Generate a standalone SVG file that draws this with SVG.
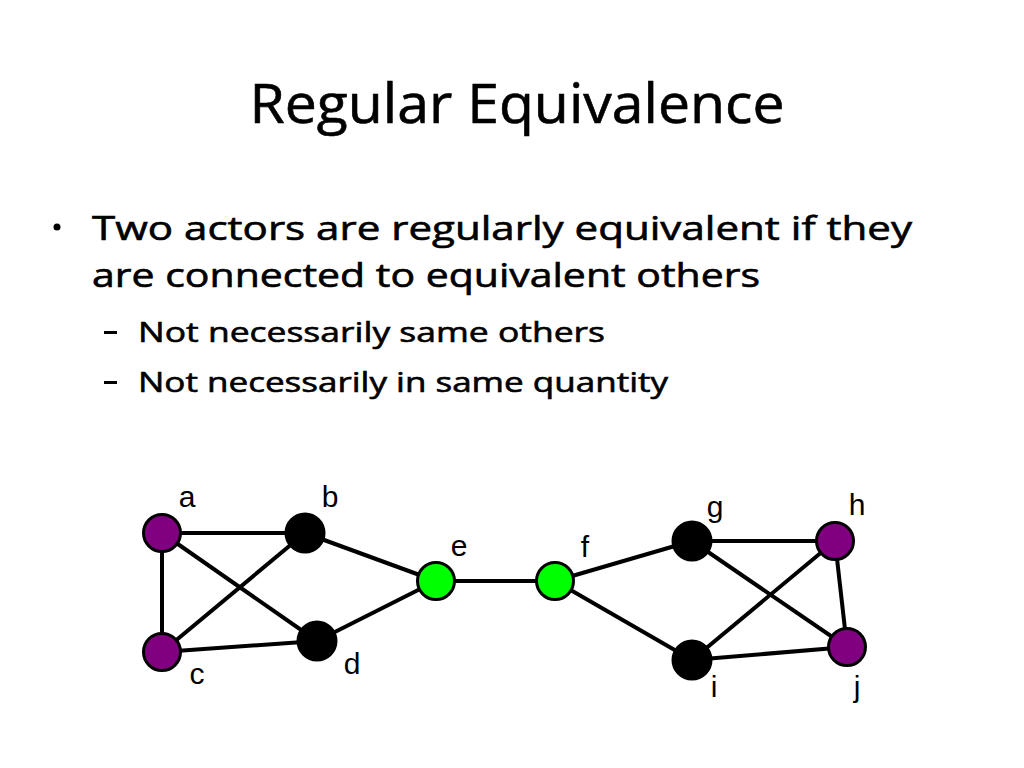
<svg xmlns="http://www.w3.org/2000/svg" width="1024" height="768" viewBox="0 0 1024 768">
<style>
.t{font-family:"Open Sans","DejaVu Sans",sans-serif;fill:#000;stroke:#000;stroke-width:0.6}
.lbl{font-family:"Liberation Sans",Arial,sans-serif;font-size:30px;fill:#000;text-anchor:middle}
.e{stroke:#000;stroke-width:4;fill:none}
.p{fill:#800080;stroke:#000;stroke-width:3}
.k{fill:#000;stroke:#000;stroke-width:3}
.g{fill:#00ff00;stroke:#000;stroke-width:3}
</style>
<rect width="1024" height="768" fill="#fff"/>
<text class="t" x="517" y="123" font-size="54" text-anchor="middle" textLength="535" lengthAdjust="spacingAndGlyphs">Regular Equivalence</text>
<circle cx="57" cy="227" r="3.5" fill="#000"/>
<text class="t" x="92" y="240" font-size="32" textLength="820" lengthAdjust="spacingAndGlyphs">Two actors are regularly equivalent if they</text>
<text class="t" x="92" y="287" font-size="32" textLength="668" lengthAdjust="spacingAndGlyphs">are connected to equivalent others</text>
<rect x="104" y="331" width="13" height="3" fill="#000"/>
<text class="t" x="138" y="342" font-size="28" textLength="467" lengthAdjust="spacingAndGlyphs">Not necessarily same others</text>
<rect x="104" y="381" width="13" height="3" fill="#000"/>
<text class="t" x="138" y="392" font-size="28" textLength="530" lengthAdjust="spacingAndGlyphs">Not necessarily in same quantity</text>
<g id="connectors">
<line class="e" x1="162" y1="533" x2="305" y2="533"/>
<line class="e" x1="162" y1="533" x2="162" y2="652"/>
<line class="e" x1="162" y1="533" x2="317" y2="641"/>
<line class="e" x1="162" y1="652" x2="305" y2="533"/>
<line class="e" x1="162" y1="652" x2="317" y2="641"/>
<line class="e" x1="305" y1="533" x2="436" y2="581"/>
<line class="e" x1="317" y1="641" x2="436" y2="581"/>
<line class="e" x1="436" y1="581" x2="555" y2="581"/>
<line class="e" x1="555" y1="581" x2="692" y2="541"/>
<line class="e" x1="555" y1="581" x2="692" y2="660"/>
<line class="e" x1="692" y1="541" x2="835" y2="541"/>
<line class="e" x1="692" y1="541" x2="847" y2="647"/>
<line class="e" x1="692" y1="660" x2="835" y2="541"/>
<line class="e" x1="692" y1="660" x2="847" y2="647"/>
<line class="e" x1="835" y1="541" x2="847" y2="647"/>
</g>
<g id="node-a"><circle class="p" cx="162" cy="533" r="18.5"/><text class="lbl" x="187" y="507">a</text></g>
<g id="node-b"><circle class="k" cx="305" cy="533" r="19"/><text class="lbl" x="330" y="507">b</text></g>
<g id="node-c"><circle class="p" cx="162" cy="652" r="18.5"/><text class="lbl" x="197" y="684">c</text></g>
<g id="node-d"><circle class="k" cx="317" cy="641" r="19"/><text class="lbl" x="352" y="674">d</text></g>
<g id="node-e"><circle class="g" cx="436" cy="581" r="18.5"/><text class="lbl" x="459" y="556">e</text></g>
<g id="node-f"><circle class="g" cx="555" cy="581" r="18.5"/><text class="lbl" x="585" y="557">f</text></g>
<g id="node-g"><circle class="k" cx="692" cy="541" r="19"/><text class="lbl" x="715" y="517">g</text></g>
<g id="node-h"><circle class="p" cx="835" cy="541" r="18.5"/><text class="lbl" x="857" y="515">h</text></g>
<g id="node-i"><circle class="k" cx="692" cy="660" r="19"/><text class="lbl" x="714" y="697">i</text></g>
<g id="node-j"><circle class="p" cx="847" cy="647" r="18.5"/><text class="lbl" x="857" y="697">j</text></g>
</svg>
